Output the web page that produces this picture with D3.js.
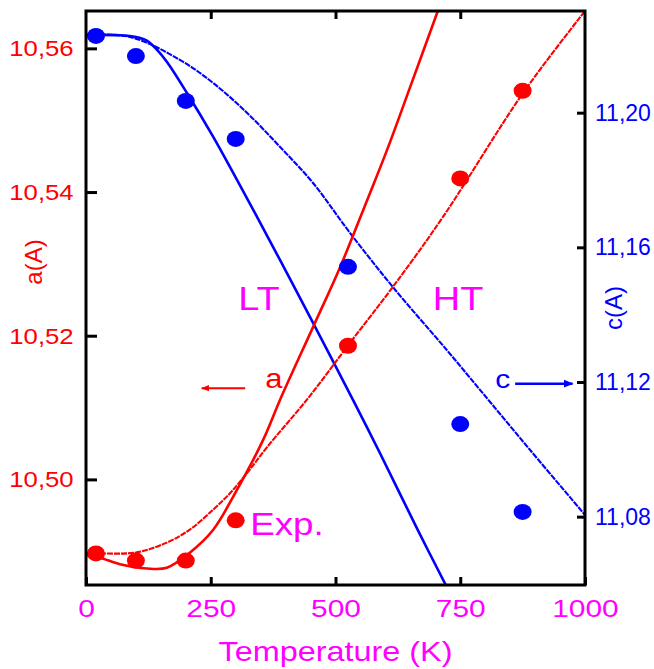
<!DOCTYPE html>
<html>
<head>
<meta charset="utf-8">
<script src="https://cdn.jsdelivr.net/npm/d3@7"></script>
<style>
  body { margin: 0; background: #fff; }
  svg { display: block; font-family: "Liberation Sans", Arial, sans-serif; }
</style>
</head>
<body>
<div id="chart"></div>
<script>
// experimental points (T in K)
const tempK = [20, 100, 200, 300, 525, 750, 875];
const aExp  = [10.4897, 10.4887, 10.4887, 10.4943, 10.5186, 10.5419, 10.5541];
const cExp  = [11.2228, 11.2168, 11.2035, 11.1922, 11.1542, 11.1075, 11.0814];

// a(T) curves
const ltAT = [0, 28, 68, 122, 162, 208, 255, 295, 355, 389, 455, 509, 563, 603, 649, 705];
const ltA  = [10.4895, 10.4891, 10.4882, 10.4876, 10.4877, 10.4898, 10.4930, 10.4976,
              10.5055, 10.5111, 10.5212, 10.5295, 10.5388, 10.5458, 10.5545, 10.5652];
const htAT = [0, 98, 162, 208, 255, 289, 323, 363, 445, 529, 615, 715, 876, 1000];
const htA  = [10.4898, 10.4898, 10.4912, 10.4930, 10.4958, 10.4981, 10.5009, 10.5045,
              10.5113, 10.5190, 10.5268, 10.5365, 10.5538, 10.5652];

// c(T) curves
const ltCT = [0, 68, 100, 122, 142, 162, 202, 255, 295, 343, 395, 449, 535, 589, 665, 721];
const ltC  = [11.2231, 11.2230, 11.2225, 11.2214, 11.2187, 11.2151, 11.2059, 11.1928,
              11.1821, 11.1690, 11.1545, 11.1393, 11.1147, 11.0989, 11.0760, 11.0597];
const htCT = [0, 88, 188, 255, 323, 389, 455, 529, 615, 723, 790, 890, 1000];
const htC  = [11.2231, 11.2225, 11.2157, 11.2088, 11.1999, 11.1898, 11.1791, 11.1643,
              11.1482, 11.1295, 11.1176, 11.0998, 11.0805];

// axis ticks
const xTicks = [0, 250, 500, 750, 1000];
const aTicks = [10.50, 10.52, 10.54, 10.56];
const cTicks = [11.08, 11.12, 11.16, 11.20];

const RED = "#ff0000", BLUE = "#0000ff", MAG = "#ff00ff";
const W = 654, H = 669;
const margin = { left: 86, right: 585, top: 11, bottom: 585 };

const svg = d3.select("#chart").append("svg")
  .attr("width", W).attr("height", H);

const x  = d3.scaleLinear().domain([0, 1000]).range([margin.left, margin.right]);
const yA = d3.scaleLinear().domain([10.4853, 10.5652]).range([margin.bottom, margin.top]);
const yC = d3.scaleLinear().domain([11.0597, 11.2302]).range([margin.bottom, margin.top]);

const fmt = d => d.toFixed(2).replace(".", ",");
const plotW = margin.right - margin.left, plotH = margin.bottom - margin.top;

svg.append("clipPath").attr("id", "plot-clip")
  .append("rect")
  .attr("x", margin.left).attr("y", margin.top)
  .attr("width", plotW).attr("height", plotH);

const plot = svg.append("g").attr("clip-path", "url(#plot-clip)");

// curves (smooth through the read-off points)
const lineA = (ts, vs) => d3.line().curve(d3.curveCatmullRom.alpha(0.5))
  .x((d, i) => x(ts[i])).y((d, i) => yA(vs[i]))(vs);
const lineC = (ts, vs) => d3.line().curve(d3.curveCatmullRom.alpha(0.5))
  .x((d, i) => x(ts[i])).y((d, i) => yC(vs[i]))(vs);

plot.append("path").attr("d", lineC(htCT, htC))
  .attr("fill", "none").attr("stroke", BLUE).attr("stroke-width", 2.1)
  .attr("stroke-dasharray", "6,1");
plot.append("path").attr("d", lineC(ltCT, ltC))
  .attr("fill", "none").attr("stroke", BLUE).attr("stroke-width", 2.6);
plot.append("path").attr("d", lineA(htAT, htA))
  .attr("fill", "none").attr("stroke", RED).attr("stroke-width", 2.1)
  .attr("stroke-dasharray", "6,1");
plot.append("path").attr("d", lineA(ltAT, ltA))
  .attr("fill", "none").attr("stroke", RED).attr("stroke-width", 2.6);

// experimental dots
plot.selectAll(".dot-c").data(tempK).enter().append("ellipse")
  .attr("class", "dot-c")
  .attr("cx", d => x(d)).attr("cy", (d, i) => yC(cExp[i]))
  .attr("rx", 9).attr("ry", 8).attr("fill", BLUE);
plot.selectAll(".dot-a").data(tempK).enter().append("ellipse")
  .attr("class", "dot-a")
  .attr("cx", d => x(d)).attr("cy", (d, i) => yA(aExp[i]))
  .attr("rx", 9).attr("ry", 8).attr("fill", RED);

// axes: ticks point inward
const axisStyle = g => {
  g.select(".domain").remove();
  g.selectAll(".tick line").attr("stroke", "#000").attr("stroke-width", 3);
};

svg.append("g").attr("transform", `translate(0,${margin.bottom})`)
  .call(d3.axisBottom(x).tickValues(xTicks).tickSize(-8).tickPadding(16).tickFormat(d3.format("d")))
  .call(axisStyle)
  .call(g => g.selectAll("text").attr("fill", MAG)
    .style("font-size", "23px").attr("transform", "scale(1.3,1)"));

svg.append("g").attr("transform", `translate(0,${margin.top})`)
  .call(d3.axisTop(x).tickValues([250, 500, 750]).tickSize(-8).tickFormat(""))
  .call(axisStyle);

svg.append("g").attr("transform", `translate(${margin.left},0)`)
  .call(d3.axisLeft(yA).tickValues(aTicks).tickSize(-11).tickPadding(11).tickFormat(fmt))
  .call(axisStyle)
  .call(g => g.selectAll("text").attr("fill", RED).style("font-size", "23px")
    .attr("transform", "scale(1.12,1)"));

// right labels kept just inside the page edge
svg.append("g").attr("transform", `translate(${margin.right},0)`)
  .call(d3.axisRight(yC).tickValues(cTicks).tickSize(-8).tickPadding(10).tickFormat(fmt))
  .call(axisStyle)
  .call(g => g.selectAll("text").attr("fill", BLUE).style("font-size", "23px"));

// frame
svg.append("rect")
  .attr("x", margin.left).attr("y", margin.top)
  .attr("width", plotW).attr("height", plotH)
  .attr("fill", "none").attr("stroke", "#000").attr("stroke-width", 3);

// axis titles
svg.append("text")
  .attr("transform", `translate(${(margin.left + margin.right) / 2},661) scale(1.2,1)`)
  .attr("text-anchor", "middle").attr("fill", MAG)
  .style("font-size", "27px")
  .text("Temperature (K)");

svg.append("text")
  .attr("transform", "translate(42,262) rotate(-90)")
  .attr("text-anchor", "middle").attr("fill", RED)
  .style("font-size", "24px")
  .text("a(A)");

svg.append("text")
  .attr("transform", "translate(622,308) rotate(-90)")
  .attr("text-anchor", "middle").attr("fill", BLUE)
  .style("font-size", "24px")
  .text("c(A)");

// annotations
const note = (t, v, scale, txt, color, size) =>
  svg.append("text")
    .attr("transform", `translate(${x(t)},${scale(v)}) scale(1.15,1)`)
    .attr("fill", color).style("font-size", size + "px")
    .text(txt);

note(305, 10.5236, yA, "LT", MAG, 33);
note(695, 10.5236, yA, "HT", MAG, 33);
note(329, 10.4923, yA, "Exp.", MAG, 32);
note(359, 10.5127, yA, "a", RED, 27);
note(820, 11.1183, yC, "c", BLUE, 26);

// arrows
const defs = svg.append("defs");
[["arrow-red", RED], ["arrow-blue", BLUE]].forEach(([id, col]) => {
  defs.append("marker").attr("id", id)
    .attr("viewBox", "0 0 10 10").attr("refX", 9).attr("refY", 5)
    .attr("markerWidth", 4).attr("markerHeight", 4).attr("orient", "auto")
    .append("path").attr("d", "M0,1 L10,5 L0,9 Z").attr("fill", col);
});

svg.append("line")
  .attr("x1", x(319)).attr("x2", x(232))
  .attr("y1", yA(10.5127)).attr("y2", yA(10.5127))
  .attr("stroke", RED).attr("stroke-width", 2)
  .attr("marker-end", "url(#arrow-red)");

svg.append("line")
  .attr("x1", x(860)).attr("x2", x(975))
  .attr("y1", yC(11.1195)).attr("y2", yC(11.1195))
  .attr("stroke", BLUE).attr("stroke-width", 2.5)
  .attr("marker-end", "url(#arrow-blue)");
</script>
</body>
</html>
